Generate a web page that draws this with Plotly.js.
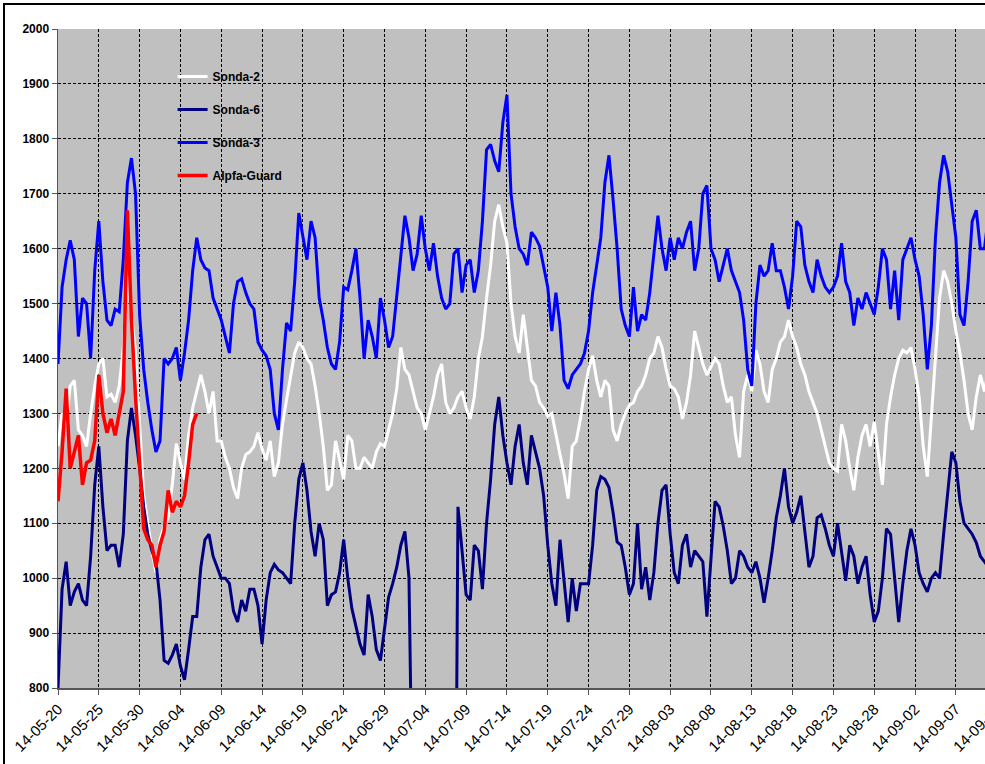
<!DOCTYPE html>
<html>
<head>
<meta charset="utf-8">
<script src="https://cdn.plot.ly/plotly-3.0.1.min.js"></script>
<style>
  html, body { margin: 0; padding: 0; overflow: hidden; background: #fff; }
  #plot { width: 1023px; height: 764px; }
  #frame {
    position: absolute; left: 3px; top: 3px; width: 2000px; height: 2000px;
    border-left: 2px solid #000; border-top: 2px solid #000; pointer-events: none;
  }
</style>
</head>
<body>
<div id="plot"></div>
<div id="frame"></div>
<script>
// pomiary co 12 godzin od 2014-05-20 00:00
const startDate = Date.UTC(2014, 4, 20);
const stepMs = 12 * 3600 * 1000;

// Sonda-2 (biała)
const sonda2 = [
  1240, 1300, 1280, 1350, 1360, 1270, 1260, 1240, 1300, 1350,
  1390, 1400, 1330, 1335, 1320, 1350, 1420, 1550, 1480, 1410,
  1280, 1150, 1100, 1050, 1010, 1070, 1095, 1110, 1170, 1245,
  1210, 1180, 1260, 1310, 1340, 1370, 1340, 1300, 1340, 1250,
  1250, 1220, 1200, 1165, 1145, 1200, 1225, 1230, 1240, 1265,
  1235, 1215, 1250, 1185, 1210, 1280, 1325, 1370, 1410, 1430,
  1420, 1400, 1390, 1350, 1300, 1240, 1160, 1170, 1250, 1215,
  1180, 1260, 1250, 1200, 1200, 1220, 1210, 1200, 1230, 1245,
  1240, 1270, 1300, 1345, 1420, 1380, 1370, 1340, 1310, 1300,
  1270, 1300, 1330, 1370, 1390, 1320, 1300, 1310, 1330, 1340,
  1310, 1290, 1330, 1400, 1440, 1510, 1570, 1650, 1680, 1640,
  1610, 1500, 1440, 1410, 1480, 1420, 1360, 1350, 1320, 1310,
  1295, 1300, 1260, 1225, 1190, 1145, 1240, 1250, 1290, 1340,
  1380, 1405, 1360, 1330, 1360, 1350, 1270, 1250, 1280, 1300,
  1315, 1320, 1340, 1350, 1370, 1400, 1410, 1440, 1420, 1380,
  1350, 1345, 1330, 1290, 1320, 1370, 1450, 1420, 1390, 1370,
  1385, 1400, 1390, 1350, 1320, 1330, 1260, 1220, 1340, 1370,
  1340, 1415, 1390, 1340, 1320, 1380, 1400, 1430, 1440, 1470,
  1440, 1420, 1390, 1370, 1340, 1320, 1300, 1270, 1240, 1210,
  1200, 1195, 1280, 1250, 1200, 1160, 1220, 1260, 1280, 1240,
  1285, 1230, 1170, 1280, 1330, 1370, 1400, 1415, 1410, 1420,
  1380, 1330, 1240, 1185, 1290, 1400, 1510, 1560, 1540, 1500,
  1450, 1410, 1360, 1300, 1270, 1330, 1370, 1340, 1380, 1400
];

// Sonda-6 (granatowa); 0 = brak odczytu (linia schodzi poza oś)
const sonda6 = [
  800, 980, 1030, 950, 975, 990, 960, 950, 1040, 1170,
  1240, 1130, 1050, 1060, 1060, 1020, 1080, 1250, 1310, 1260,
  1200, 1130, 1080, 1050, 1030, 960, 850, 845, 860, 880,
  840, 815, 870, 930, 930, 1020, 1070, 1080, 1040, 1020,
  1000, 1000, 990, 940, 920, 960, 940, 980, 980, 950,
  880, 960, 1010, 1025, 1015, 1010, 1000, 990, 1100, 1180,
  1210, 1160, 1085, 1040, 1100, 1070, 950, 970, 975, 1010,
  1070, 1000, 945, 915, 880, 860, 970, 930, 870, 850,
  910, 965, 990, 1020, 1060, 1085, 1000, 0, 0, 0,
  0, 0, 0, 0, 0, 0, 0, 0, 1130, 1050,
  970, 960, 1060, 1050, 980, 1100, 1180, 1280, 1330, 1260,
  1210, 1170, 1240, 1280, 1210, 1170, 1260, 1230, 1200, 1150,
  1060, 990, 950, 1070, 990, 920, 1000, 940, 990, 990,
  990, 1060, 1160, 1185, 1180, 1165, 1120, 1066, 1060, 1020,
  970, 990, 1100, 980, 1020, 960, 1010, 1100, 1160, 1170,
  1080, 1010, 990, 1060, 1080, 1020, 1050, 1040, 1030, 930,
  1030, 1140, 1130, 1095, 1050, 990, 1000, 1050, 1040, 1020,
  1010, 1030, 1000, 955, 1000, 1050, 1110, 1150, 1200, 1130,
  1100, 1120, 1150, 1090, 1020, 1040, 1110, 1115, 1090, 1060,
  1040, 1100, 1050, 995, 1060, 1040, 990, 1020, 1040, 970,
  920, 940, 1000, 1090, 1080, 1000, 920, 990, 1050, 1090,
  1060, 1010, 990, 975, 1000, 1010, 1000, 1080, 1150, 1230,
  1210, 1140, 1100, 1090, 1080, 1065, 1040, 1030, 1020, 1010
];

// Sonda-3 (niebieska)
const sonda3 = [
  1390, 1530, 1580, 1615, 1580, 1440, 1510, 1500, 1400, 1560,
  1650, 1540, 1470, 1460, 1490, 1485, 1580, 1720, 1765, 1700,
  1480, 1380, 1320, 1270, 1230, 1250, 1400, 1390, 1400, 1420,
  1360, 1410, 1470, 1560, 1620, 1580, 1565, 1560, 1510, 1490,
  1470, 1440, 1410, 1500, 1540, 1545, 1520, 1500, 1490, 1430,
  1415, 1405, 1380, 1300, 1270, 1380, 1465, 1450, 1540, 1665,
  1620, 1580, 1650, 1620, 1510, 1470, 1420, 1390, 1380, 1430,
  1530, 1525, 1560, 1600, 1510, 1400, 1470, 1440, 1400, 1510,
  1470, 1420, 1440, 1510, 1590, 1660, 1620, 1560, 1590, 1660,
  1600, 1560, 1610, 1550, 1510, 1490, 1500, 1590, 1600, 1520,
  1570, 1580, 1520, 1560, 1650, 1780, 1790, 1760, 1740, 1830,
  1880, 1700, 1640, 1600, 1590, 1570, 1630, 1620, 1605, 1570,
  1530, 1450, 1520, 1460, 1360, 1345, 1370, 1380, 1390, 1410,
  1450, 1520, 1570, 1620, 1720, 1770, 1690, 1600, 1490, 1460,
  1440, 1530, 1450, 1480, 1470, 1520, 1590, 1660, 1600, 1560,
  1620, 1580, 1620, 1600, 1630, 1650, 1560, 1600, 1700, 1715,
  1600, 1580, 1540, 1570, 1600, 1560, 1540, 1520, 1470, 1380,
  1350, 1500, 1570, 1550, 1560, 1610, 1560, 1560, 1530, 1490,
  1550, 1650, 1640, 1570, 1540, 1520, 1580, 1550, 1530, 1520,
  1530, 1550, 1610, 1540, 1520, 1460, 1510, 1490, 1520, 1500,
  1480, 1530, 1600, 1580, 1490, 1560, 1470, 1580, 1600, 1620,
  1580, 1550, 1480, 1380, 1460, 1620, 1720, 1770, 1740, 1680,
  1620, 1480, 1460, 1540, 1650, 1670, 1600, 1600, 1660, 1620
];

// Alpfa-Guard (czerwona), tylko do 2014-06-06
const alpfaGuard = [
  1140, 1230, 1345, 1200, 1230, 1260, 1170, 1210, 1215, 1250,
  1370, 1300, 1265, 1290, 1260, 1300, 1340, 1670, 1470, 1330,
  1200, 1090, 1070, 1060, 1020, 1060, 1085, 1160, 1120, 1140,
  1130, 1150, 1210, 1280, 1300
];

// oś czasu dla serii
function timeAxis(n) {
    const t = [];
    for (let i = 0; i < n; i++) {
        t.push(new Date(startDate + i * stepMs).toISOString().slice(0, 16).replace('T', ' '));
    }
    return t;
}

function makeTrace(name, values, color, width) {
    return {
        type: 'scatter',
        mode: 'lines',
        name: name,
        legendgroup: name,
        x: timeAxis(values.length),
        y: values,
        line: { color: color, width: width },
        hoverinfo: 'skip'
    };
}

const traces = [
    makeTrace('Sonda-2', sonda2, '#ffffff', 3),
    makeTrace('Sonda-6', sonda6, '#000080', 3),
    makeTrace('Sonda-3', sonda3, '#0000ff', 3),
    makeTrace('Alpfa-Guard', alpfaGuard, '#ff0000', 3.5)
];

const font = { family: 'Liberation Sans, Arial, sans-serif', size: 12, color: '#000' };

const layout = {
    width: 1023,
    height: 764,
    margin: { l: 58, r: 10, t: 29, b: 76 },
    paper_bgcolor: '#ffffff',
    plot_bgcolor: '#c0c0c0',
    font: font,
    showlegend: true,
    legend: {
        x: 0.12, y: 0.95, xanchor: 'left', yanchor: 'top',
        bgcolor: 'rgba(0,0,0,0)',
        font: { family: font.family, size: 12, color: '#000', weight: 'bold' },
        itemwidth: 30,
        tracegroupgap: 14
    },
    xaxis: {
        type: 'date',
        range: ['2014-05-20', '2014-09-14'],
        tick0: '2014-05-20',
        dtick: 5 * 86400000,
        tickformat: '%y-%m-%d',
        tickangle: -45,
        ticks: 'outside',
        ticklen: 5,
        tickcolor: '#555',
        showline: true,
        linecolor: '#555',
        linewidth: 1.5,
        showgrid: true,
        gridcolor: '#000',
        gridwidth: 1,
        griddash: '3px,2px',
        zeroline: false,
        tickfont: { family: font.family, size: 15, color: '#000' }
    },
    yaxis: {
        range: [800, 2000],
        dtick: 100,
        ticks: 'outside',
        ticklen: 5,
        tickcolor: '#555',
        showline: true,
        linecolor: '#555',
        linewidth: 1.5,
        showgrid: true,
        gridcolor: '#000',
        gridwidth: 1,
        griddash: '3px,2px',
        zeroline: false,
        tickfont: { family: font.family, size: 12, color: '#000', weight: 'bold' }
    }
};

Plotly.newPlot('plot', traces, layout, { displayModeBar: false, staticPlot: true });
</script>
</body>
</html>
